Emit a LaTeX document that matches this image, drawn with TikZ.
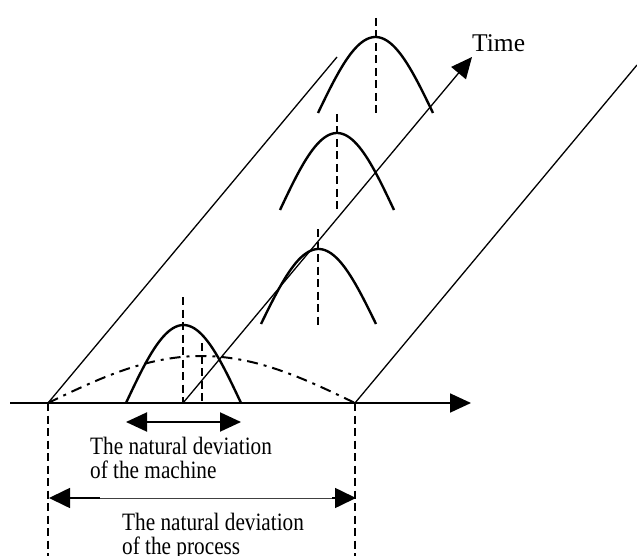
\documentclass[tikz,border=0pt]{standalone}
\usepackage{fontspec}
\setmainfont{Liberation Serif}
\usetikzlibrary{arrows.meta}
\begin{document}
\begin{tikzpicture}[x=1pt,y=-1pt,
  axisline/.style={line width=1.8pt},
  railline/.style={line width=1.3pt},
  bell/.style={line width=2.4pt},
  meanline/.style={line width=1.4pt, dash pattern=on 8pt off 4.5pt},
  procbell/.style={line width=2pt, dash pattern=on 11pt off 6pt on 3pt off 6pt},
  bigtip/.style={-{Triangle[length=21pt,width=19pt]}},
  bothtips/.style={{Triangle[length=21pt,width=19pt]}-{Triangle[length=21pt,width=19pt]}},
  lbl/.style={inner sep=0pt, anchor=base west, font=\fontsize{25}{24}\selectfont}]
\useasboundingbox (0,0) rectangle (637,556);
% coordinates
\coordinate (axL) at (10,403);
\coordinate (axR) at (471,403);
\coordinate (pL) at (48,403);
\coordinate (pR) at (355,403);
\coordinate (t0) at (183,403);
\coordinate (tEnd) at (472,57);
\coordinate (railLtop) at (337,57);
\coordinate (railRtop) at (637,65);
% rails and axes
\draw[railline] (pL) -- (railLtop);
\draw[railline] (pR) -- (railRtop);
\draw[railline, bigtip] (t0) -- (tEnd);
\draw[axisline, bigtip] (axL) -- (axR);
\node[lbl, font=\fontsize{25.5}{26}\selectfont] (time) at (472,52) {Time};
% process distribution (dash-dot)
\draw[procbell] plot[domain=-153.5:153.5, samples=60] ({201.5+\x},{403-47*cos(90*\x/153.5)});
\draw[meanline] (202,343) -- (202,403);
% machine distributions
\draw[bell] plot[domain=-57.5:57.5, samples=50] ({183.5+\x},{403-78*cos(90*\x/57.5)});
\draw[meanline] (183,297) -- (183,403);
\draw[bell] plot[domain=-57.5:57.5, samples=50] ({318.5+\x},{324-75*cos(90*\x/57.5)});
\draw[meanline] (318,229) -- (318,326);
\draw[bell] plot[domain=-57:57, samples=50] ({337+\x},{210-77*cos(90*\x/57)});
\draw[meanline] (337,114) -- (337,211);
\draw[bell] plot[domain=-57.5:57.5, samples=50] ({375.5+\x},{113-76*cos(90*\x/57.5)});
\draw[meanline] (376,18) -- (376,114);
% machine deviation arrow
\coordinate (mL) at (126,422);
\coordinate (mR) at (241,422);
\draw[line width=2pt, bothtips] (mL) -- (mR);
\node[lbl] (mtext) at (90,454) {\scalebox{0.85}[1]{\begin{tabular}[t]{@{}l@{}}The natural deviation\\of the machine\end{tabular}}};
% process deviation limits
\coordinate (pLb) at (48,556);
\coordinate (pRb) at (355,556);
\draw[meanline] (pL) -- (pLb);
\draw[meanline] (pR) -- (pRb);
\coordinate (qL) at (49,498);
\coordinate (qR) at (356,498);
\coordinate (qLs) at (100,498);
\coordinate (qRs) at (332,498);
\draw[line width=0.7pt, black!75] (qLs) -- (qRs);
\draw[line width=1.6pt, {Triangle[length=21pt,width=20pt]}-] (qL) -- (qLs);
\draw[line width=1.6pt, -{Triangle[length=21pt,width=20pt]}] (qRs) -- (qR);
\node[lbl] (ptext) at (122,530) {\scalebox{0.85}[1]{\begin{tabular}[t]{@{}l@{}}The natural deviation\\of the process\end{tabular}}};
\end{tikzpicture}
\end{document}
